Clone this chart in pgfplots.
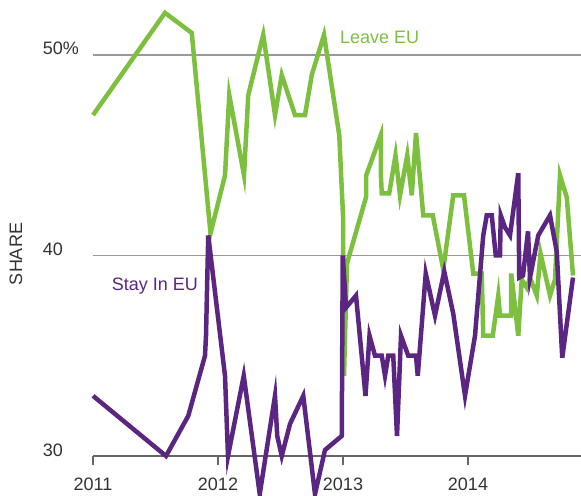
\documentclass[border=0pt]{standalone}
\usepackage{fontspec}
\setmainfont{Liberation Sans}
\usepackage{pgfplots}
\pgfplotsset{compat=1.18}
\definecolor{leave}{RGB}{125,192,64}
\definecolor{stay}{RGB}{90,38,130}
\definecolor{tickgray}{RGB}{51,51,51}
\begin{document}
\begin{tikzpicture}
\begin{axis}[
  at={(0,0)}, anchor=south west,
  scale only axis, width=488bp, height=456bp,
  xmin=2011, xmax=2014.904, ymin=30, ymax=52.74,
  clip=false,
  axis x line*=bottom, axis y line*=left,
  y axis line style={draw=none},
  x axis line style={draw=black!60, line width=2bp},
  xtick={2011,2012,2013,2014}, xticklabels={2011,2012,2013,2014},
  ytick={30,40,50}, yticklabels={30,40,50\%},
  tick align=outside, major tick length=9bp,
  xtick style={draw=black!60, line width=1.5bp},
  ytick style={draw=none},
  ymajorgrids, grid style={draw=black!40, line width=1.2bp},
  tick label style={font=\fontsize{18bp}{20bp}\selectfont, text=tickgray},
  yticklabel style={anchor=base east, inner sep=0pt, xshift=-4bp, text width=37bp, align=left},
  xticklabel style={anchor=north, inner sep=0pt, yshift=-13bp},
  ylabel={SHARE},
  ylabel style={at={(axis description cs:-0.158,0.443)}, anchor=center, font=\fontsize{18bp}{20bp}\selectfont, text=tickgray},
]
\addplot[leave, line width=4.5bp, line join=miter] coordinates {
(2011.000,47.0) (2011.576,52.1) (2011.790,51.1) (2011.940,41.1) (2012.056,44.0)
(2012.090,48.0) (2012.208,44.0) (2012.242,48.0) (2012.362,51.0) (2012.456,47.0)
(2012.510,49.0) (2012.616,47.0) (2012.696,47.0) (2012.750,49.0) (2012.848,51.0)
(2012.970,46.0) (2013.000,42.0) (2013.008,34.0) (2013.032,39.6) (2013.184,42.9)
(2013.186,44.0) (2013.302,46.0) (2013.303,44.0) (2013.310,43.1) (2013.370,43.1)
(2013.420,45.0) (2013.456,43.0) (2013.514,45.0) (2013.550,43.0) (2013.584,46.1)
(2013.642,42.0) (2013.718,42.0) (2013.802,39.3) (2013.882,43.0) (2013.968,43.0)
(2014.042,39.1) (2014.110,39.1) (2014.122,36.0) (2014.198,36.0) (2014.242,38.0)
(2014.256,37.0) (2014.344,37.0) (2014.346,39.1) (2014.402,36.0) (2014.430,38.8)
(2014.470,38.4) (2014.496,38.9) (2014.550,38.0) (2014.580,40.1) (2014.656,38.0)
(2014.696,38.8) (2014.736,44.0) (2014.790,42.9) (2014.840,39.0)
};
\addplot[stay, line width=4.5bp, line join=miter] coordinates {
(2011.000,33.0) (2011.584,30.0) (2011.762,32.0) (2011.896,35.0) (2011.904,36.0)
(2011.922,41.0) (2012.056,34.0) (2012.080,30.0) (2012.206,34.0) (2012.334,28.1)
(2012.456,33.0) (2012.474,31.0) (2012.510,30.0) (2012.576,31.6) (2012.682,33.0)
(2012.776,28.1) (2012.856,30.3) (2012.990,31.0) (2012.998,40.0) (2013.024,37.4)
(2013.104,38.0) (2013.180,33.0) (2013.212,36.0) (2013.256,35.0) (2013.310,35.0)
(2013.336,34.0) (2013.362,35.0) (2013.402,35.0) (2013.432,31.0) (2013.464,36.0)
(2013.522,35.0) (2013.584,35.0) (2013.598,34.0) (2013.662,39.1) (2013.736,37.0)
(2013.810,39.2) (2013.882,37.1) (2013.976,33.0) (2014.056,36.0) (2014.122,41.0)
(2014.150,42.0) (2014.190,42.0) (2014.222,40.0) (2014.256,40.0) (2014.262,42.0)
(2014.296,41.4) (2014.336,41.0) (2014.402,44.1) (2014.410,38.9) (2014.440,39.0)
(2014.480,41.2) (2014.496,38.9) (2014.562,41.0) (2014.656,42.0) (2014.710,40.2)
(2014.754,34.9) (2014.840,38.9)
};
\node[anchor=base west, inner sep=0pt, text=leave, font=\fontsize{18bp}{20bp}\selectfont] at (axis cs:2012.976,50.57) {Leave EU};
\node[anchor=base west, inner sep=0pt, text=stay, font=\fontsize{18bp}{20bp}\selectfont] at (axis cs:2011.149,38.27) {Stay In EU};
\end{axis}
\pgfresetboundingbox
\path[use as bounding box] (-93bp,-40bp) rectangle (488bp,456bp);
\end{tikzpicture}
\end{document}
